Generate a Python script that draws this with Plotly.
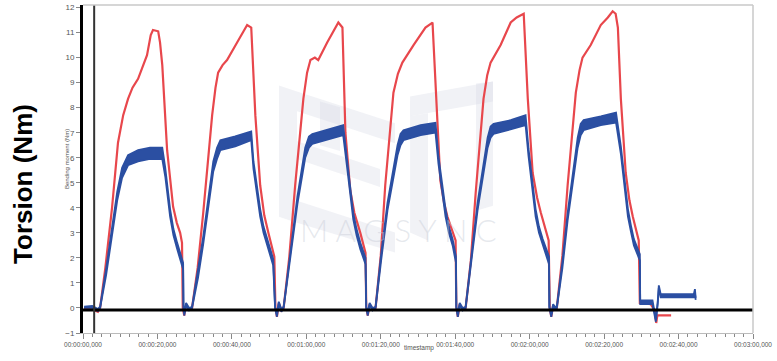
import plotly.graph_objects as go

# ---------------- data ----------------
# time in seconds, torsion in Nm
red_t = [0.3, 2.5, 4.0, 4.6,
         6.0, 7.8, 9.4, 10.8, 12.1, 13.3, 14.8, 16.0, 17.2, 18.2, 18.8, 20.2, 20.7, 21.3, 22.6, 24.2, 25.2, 26.1, 26.6, 26.8,
         27.2, 27.7, 28.5, 29.3,
         30.8, 32.3, 34.7, 35.6, 36.3, 37.5, 38.7, 41.4, 43.0, 44.1, 45.2, 46.3, 47.6, 48.7, 49.8, 51.4, 51.7,
         52.1, 52.6, 53.3, 53.9,
         55.4, 57.0, 59.2, 60.2, 61.1, 62.3, 63.2, 65.6, 67.2, 68.6, 69.7, 70.5, 71.8, 72.9, 74.5, 75.9, 76.1,
         76.5, 77.0, 77.8, 78.6,
         80.0, 81.2, 83.4, 84.6, 85.8, 88.8, 92.0, 93.9, 94.7, 96.0, 97.0, 97.9, 100.1, 100.3,
         100.7, 101.2, 102.0, 102.8,
         104.2, 105.5, 107.6, 108.6, 109.5, 112.2, 114.9, 116.5, 118.4, 119.5, 120.8, 122.0, 123.0, 125.1, 125.4,
         125.8, 126.3, 126.8, 127.3,
         128.8, 130.2, 132.4, 133.4, 134.2, 136.4, 139.1, 141.0, 142.3, 143.1, 143.7, 144.5, 145.8, 146.8, 147.7, 149.3, 149.6,
         152.5, 153.6, 154.0, 154.3, 158.0]
red_v = [0.0, -0.05, -0.15, 0.0,
         1.6, 4.0, 6.6, 7.7, 8.35, 8.8, 9.15, 9.6, 10.1, 10.9, 11.1, 11.05, 10.6, 9.7, 6.3, 4.05, 3.4, 3.0, 2.6, 0.0,
         -0.3, 0.15, -0.05, 0.0,
         1.6, 3.8, 7.7, 8.8, 9.4, 9.7, 9.9, 10.6, 11.0, 11.3, 11.2, 7.7, 4.9, 3.7, 3.0, 2.05, 0.0,
         -0.35, 0.2, -0.1, 0.0,
         2.0, 4.9, 8.35, 9.4, 9.9, 10.0, 9.9, 10.6, 11.0, 11.4, 11.2, 7.0, 4.7, 3.8, 3.0, 2.2, 0.0,
         -0.3, 0.15, -0.05, 0.0,
         2.1, 4.9, 8.6, 9.35, 9.8, 10.5, 11.2, 11.4, 9.0, 5.1, 4.2, 3.65, 2.7, 0.0,
         -0.35, 0.15, -0.05, 0.0,
         1.9, 4.6, 8.35, 9.3, 9.8, 10.5, 11.4, 11.6, 11.75, 8.35, 5.4, 4.4, 3.8, 2.7, 0.0,
         -0.35, 0.1, 0.0, 0.0,
         2.1, 4.9, 8.6, 9.5, 10.0, 10.5, 11.3, 11.6, 11.85, 11.75, 11.2, 8.35, 5.4, 4.3, 3.65, 2.7, 0.2,
         0.15, -0.1, -0.6, -0.3, -0.3]

# bending moment: lower and upper edge of the noisy blue band
blue_t = [0.3, 2.5, 4.0, 4.6,
          6.2, 7.8, 9.2, 10.5, 12.1, 14.8, 18.0, 21.3, 22.1, 23.4, 24.3, 25.3, 26.9, 27.0,
          27.2, 27.7, 28.5, 29.3,
          30.9, 32.3, 35.0, 36.0, 36.9, 40.9, 45.2, 45.8, 47.6, 48.5, 49.5, 51.1, 51.6,
          52.1, 52.6, 53.3, 53.9,
          55.6, 57.6, 59.7, 60.7, 61.6, 66.4, 69.9, 71.0, 72.6, 73.5, 74.5, 75.9, 76.1,
          76.5, 77.0, 77.8, 78.6,
          80.1, 81.8, 84.5, 85.3, 86.1, 90.7, 94.7, 95.5, 97.4, 98.3, 99.3, 100.2, 100.3,
          100.7, 101.2, 102.0, 102.8,
          104.4, 106.0, 108.7, 109.5, 110.3, 114.9, 118.9, 119.7, 121.6, 122.5, 123.5, 125.2, 125.3,
          125.8, 126.3, 126.8, 127.3,
          128.8, 130.2, 132.9, 133.7, 134.5, 139.1, 143.2, 144.5, 146.4, 147.2, 148.0, 149.6, 149.7,
          153.0, 153.9, 154.4, 154.7, 155.2, 164.1, 164.4, 164.6]
blue_lo = [0.0, 0.0, -0.12, 0.0,
           1.3, 2.85, 4.3, 5.2, 5.7, 5.85, 5.95, 5.95, 5.25, 3.65, 2.9, 2.35, 1.55, 0.0,
           -0.3, 0.1, -0.1, 0.0,
           1.2, 2.55, 5.45, 5.95, 6.3, 6.45, 6.7, 5.55, 3.65, 3.0, 2.5, 1.7, 0.0,
           -0.35, 0.15, -0.15, 0.0,
           1.9, 4.15, 6.0, 6.4, 6.55, 6.75, 6.9, 5.55, 3.55, 2.9, 2.35, 1.75, 0.0,
           -0.3, 0.1, -0.1, 0.0,
           1.9, 3.9, 6.1, 6.5, 6.7, 6.9, 7.0, 5.75, 3.65, 3.0, 2.5, 1.8, 0.0,
           -0.35, 0.1, -0.1, 0.0,
           1.9, 3.9, 6.4, 6.8, 6.95, 7.15, 7.3, 6.05, 3.65, 3.0, 2.5, 1.75, 0.0,
           -0.35, 0.05, -0.05, 0.0,
           1.6, 3.5, 6.4, 6.9, 7.1, 7.3, 7.4, 6.15, 3.65, 3.05, 2.5, 1.9, 0.15,
           0.15, -0.55, 0.15, 0.8, 0.42, 0.42, 0.6, 0.32]
blue_hi = [0.05, 0.08, -0.04, 0.05,
           1.55, 3.15, 4.65, 5.6, 6.1, 6.3, 6.4, 6.4, 5.6, 3.95, 3.15, 2.6, 1.8, 0.05,
           -0.2, 0.2, 0.0, 0.05,
           1.45, 2.85, 5.85, 6.4, 6.7, 6.85, 7.05, 5.85, 3.95, 3.25, 2.75, 1.95, 0.05,
           -0.25, 0.25, -0.05, 0.05,
           2.15, 4.45, 6.4, 6.85, 6.95, 7.15, 7.3, 5.85, 3.8, 3.15, 2.6, 2.0, 0.05,
           -0.2, 0.2, 0.0, 0.05,
           2.15, 4.2, 6.5, 6.95, 7.1, 7.3, 7.4, 6.05, 3.95, 3.25, 2.75, 2.05, 0.05,
           -0.25, 0.2, 0.0, 0.05,
           2.15, 4.2, 6.8, 7.25, 7.35, 7.5, 7.7, 6.35, 3.95, 3.25, 2.75, 2.05, 0.05,
           -0.25, 0.15, 0.05, 0.05,
           1.85, 3.8, 6.8, 7.35, 7.5, 7.65, 7.8, 6.45, 3.95, 3.3, 2.75, 2.15, 0.3,
           0.3, -0.45, 0.25, 0.9, 0.55, 0.55, 0.75, 0.4]

x_tick_vals = [0, 20, 40, 60, 80, 100, 120, 140, 160, 180]
x_tick_text = ["00:00:00,000", "00:00:20,000", "00:00:40,000", "00:01:00,000",
               "00:01:20,000", "00:01:40,000", "00:02:00,000", "00:02:20,000",
               "00:02:40,000", "00:03:00,000"]
y_tick_vals = list(range(-1, 13))

RED = "#e8474c"
BLUE = "#2b4fa2"
W, H = 777, 361
L, R, T, B = 83, 24, 3, 28

fig = go.Figure()


def px2paper(x, y):
    return (x - L) / (W - L - R), 1 - (y - T) / (H - T - B)


# faint watermark logo
logo_polys = [
    [(279, 84), (297, 90), (297, 222), (279, 216)],
    [(297, 90), (395, 122), (395, 142), (297, 110)],
    [(297, 140), (380, 168), (380, 186), (297, 158)],
    [(297, 200), (395, 232), (395, 252), (297, 222)],
    [(320, 100), (340, 106), (340, 150), (320, 144)],
    [(410, 95), (493, 80), (493, 100), (410, 115)],
    [(476, 82), (493, 80), (493, 205), (476, 210)],
    [(410, 115), (428, 112), (428, 240), (410, 232)],
]
for poly in logo_polys:
    pts = [px2paper(x, y) for x, y in poly]
    path = "M " + " L ".join(f"{a:.4f},{b:.4f}" for a, b in pts) + " Z"
    fig.add_shape(type="path", path=path, xref="paper", yref="paper",
                  fillcolor="rgba(215,219,228,0.35)", line=dict(width=0), layer="below")

wx, wy = px2paper(398, 250)
fig.add_annotation(x=wx, y=wy, xref="paper", yref="paper",
                   text="M A G S Y N C", showarrow=False,
                   font=dict(family="Lato", size=31, color="rgba(200,205,215,0.45)", weight=300))

fig.add_trace(go.Scatter(x=red_t, y=red_v, mode="lines",
                         line=dict(color=RED, width=2.2), hoverinfo="skip"))
fig.add_trace(go.Scatter(x=blue_t, y=blue_lo, mode="lines",
                         line=dict(color=BLUE, width=1.8), hoverinfo="skip"))
fig.add_trace(go.Scatter(x=blue_t, y=blue_hi, mode="lines", fill="tonexty",
                         fillcolor=BLUE, line=dict(color=BLUE, width=1.8), hoverinfo="skip"))

# reference lines
fig.add_shape(type="line", x0=0, x1=180, y0=-0.08, y1=-0.08, xref="x", yref="y",
              line=dict(color="black", width=3), layer="above")
fig.add_shape(type="line", x0=3.0, x1=3.0, y0=0, y1=1, xref="x", yref="paper",
              line=dict(color="#333333", width=2), layer="above")
# plot border (top / right)
fig.add_shape(type="line", x0=0, x1=1, y0=1, y1=1, xref="paper", yref="paper",
              line=dict(color="#c8c8c8", width=1.5))
fig.add_shape(type="line", x0=1, x1=1, y0=0, y1=1, xref="paper", yref="paper",
              line=dict(color="#c8c8c8", width=1.5))

fig.update_xaxes(range=[0, 180], tickmode="array", tickvals=x_tick_vals, ticktext=x_tick_text,
                 ticks="outside", ticklen=5, tickcolor="#888", tickwidth=1,
                 showgrid=False, zeroline=False, showline=True, linecolor="#bbbbbb", linewidth=1,
                 ticklabeloverflow="allow",
                 tickfont=dict(family="Liberation Sans", size=6.5, color="#555"),
                 minor=dict(tickmode="linear", tick0=0, dtick=2.5, ticks="outside",
                            ticklen=3, tickcolor="#888", showgrid=False))
fig.update_yaxes(range=[-1, 12.1], tickmode="array", tickvals=y_tick_vals,
                 ticks="outside", ticklen=4, tickcolor="#888", tickwidth=1,
                 showgrid=False, zeroline=False, showline=True, linecolor="black", linewidth=3,
                 tickfont=dict(family="Liberation Sans", size=8, color="#555"))

tx, ty = px2paper(23, 183)
fig.add_annotation(x=tx, y=ty, xref="paper", yref="paper", yanchor="middle",
                   xanchor="center", text="<b>Torsion (Nm)</b>", textangle=-90, showarrow=False,
                   font=dict(family="Liberation Sans", size=26, color="black"))
bx, by = px2paper(62, 158)
fig.add_annotation(x=bx, y=by, xref="paper", yref="paper",
                   text="Bending moment (Nm)", textangle=-90, showarrow=False,
                   font=dict(family="Liberation Sans", size=6, color="#555"))
sx, sy = px2paper(419, 354)
fig.add_annotation(x=sx, y=sy, xref="paper", yref="paper",
                   text="timestamp", showarrow=False,
                   font=dict(family="Liberation Sans", size=6.5, color="#555"))

fig.update_layout(width=W, height=H, margin=dict(l=L, r=R, t=T, b=B),
                  showlegend=False, plot_bgcolor="white", paper_bgcolor="white")

fig.write_html("out.html", config={"displayModeBar": False},
               post_script="document.body.style.margin='0px';document.body.style.overflow='hidden';")
